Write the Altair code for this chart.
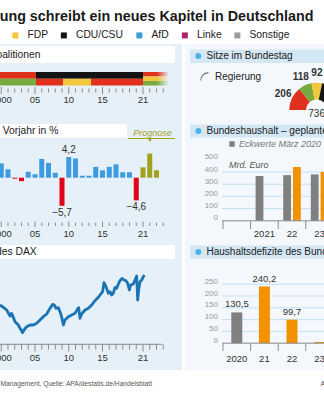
import math
import altair as alt
import pandas as pd

FONT = "Liberation Sans"

# ---------------- data ----------------
title_text = "Ampel-Regierung schreibt ein neues Kapitel in Deutschland"

parties = ["SPD", "Grüne", "FDP", "CDU/CSU", "AfD", "Linke", "Sonstige"]
party_colors = ["#e1301d", "#78ab3d", "#f1c73d", "#141414", "#3a9edb", "#ab2470", "#9b9b9b"]
seats = [206, 118, 92, 197, 83, 39, 1]
seats_total = "736"

coal_start = [1998.0, 2005.15, 2009.15, 2013.3, 2021.0]
coal_end = [2005.15, 2009.15, 2013.3, 2021.0, 2024.7]
coal_parties = [["SPD", "Grüne"], ["CDU/CSU", "SPD"], ["CDU/CSU", "FDP"],
                ["CDU/CSU", "SPD"], ["SPD", "FDP", "Grüne"]]

axis_years = [2000, 2005, 2010, 2015, 2021]
axis_labels = ["2000", "05", "10", "15", "21"]
minor_years = [y for y in range(1998, 2025) if y not in axis_years]

gdp_years = list(range(2000, 2024))
gdp_values = [2.9, 1.7, -0.2, -0.7, 1.2, 0.7, 3.8, 3.0, 1.0, -5.7, 4.2, 3.9,
              0.4, 0.4, 2.2, 1.5, 2.2, 2.7, 1.1, 1.1, -4.6, 2.1, 4.9, 1.5]
forecast_from = 2021
gdp_labeled = [2009, 2010, 2020]

dax_year = [1999.82, 2000.31, 2000.80, 2001.30, 2001.54, 2002.04, 2002.53, 2002.78,
            2003.17, 2003.37, 2003.77, 2004.26, 2004.75, 2005.25, 2005.74, 2006.23,
            2006.73, 2007.22, 2007.62, 2007.86, 2008.11, 2008.46, 2008.80, 2009.00,
            2009.20, 2009.44, 2009.94, 2010.43, 2010.93, 2011.27, 2011.47, 2011.67,
            2011.91, 2012.41, 2012.90, 2013.40, 2013.89, 2014.38, 2014.63, 2015.02,
            2015.22, 2015.52, 2015.86, 2016.11, 2016.36, 2016.60, 2016.85, 2017.10,
            2017.35, 2017.59, 2017.89, 2018.19, 2018.48, 2018.73, 2018.98, 2019.17,
            2019.57, 2019.81, 2020.06, 2020.21, 2020.36, 2020.56, 2020.80, 2021.05,
            2021.20]
dax_value = [8000, 7530, 7000, 5800, 6330, 4670, 4000, 3330,
             2470, 3000, 3670, 4000, 4000, 4330, 5000, 5670,
             6200, 7330, 8130, 8000, 7330, 7470, 6330, 5330,
             4000, 5000, 5670, 6000, 6330, 7130, 7470, 5330,
             6200, 7000, 7330, 8000, 8870, 9530, 10000, 10670,
             12470, 11670, 10330, 10670, 10000, 10330, 11530, 11330,
             12200, 12870, 13330, 13000, 12870, 12330, 11000, 12000,
             12200, 13000, 13800, 9000, 11000, 12670, 13000, 13670,
             14000]

budget_axis = ["2020", "2021", "2022", "2023", "2024"]
budget_years = ["2021", "2022", "2023"]
budget_labels = ["2021", "22", "23"]
budget_eckwerte = [368, 374, 380]
budget_entwurf = [None, 441, 401]
budget_ticks = [0, 100, 200, 300, 400, 500]

deficit_years = ["2020", "2021", "2022", "2023"]
deficit_labels = ["2020", "21", "22", "23"]
deficit_values = [130.5, 240.2, 99.7, 5.0]
deficit_planned_from = 2021
deficit_labeled = ["2020", "2021", "2022"]
deficit_ticks = [0, 50, 100, 150, 200, 250]

# ---------------- style ----------------
W, H = 324, 400
LEFT_BG = "#e6f0f8"
RIGHT_BG = "#f4f8fc"
HEAD_BG = "#d4e7f5"
DOT = "#4db1ea"
BLUE = "#3d9be0"
RED = "#e3001b"
OLIVE = "#a2a21c"
DAXBLUE = "#1a74b4"
GRAY = "#808080"
ORANGE = "#f39200"
GRID = "#c2e1f5"
TICK = "#8c8c8c"
TXT = "#222222"

one = alt.Data(values=[{"k": 0}])


def rect(x0, x1, y0, y1, color):
    return alt.Chart(one).mark_rect(color=color).encode(
        x=alt.value(x0), x2=alt.value(x1), y=alt.value(y0), y2=alt.value(y1))


def txt(s, x, y, size=10, align="left", baseline="middle", color=TXT,
        weight="normal", style="normal"):
    return alt.Chart(alt.Data(values=[{"t": s}])).mark_text(
        align=align, baseline=baseline, fontSize=size, color=color,
        fontWeight=weight, fontStyle=style, font=FONT
    ).encode(x=alt.value(x), y=alt.value(y), text="t:N")


def dot(x, y):
    return alt.Chart(one).mark_circle(color=DOT, size=34, opacity=1).encode(
        x=alt.value(x), y=alt.value(y))


def hline(x0, x1, y, color, width=1):
    return alt.Chart(one).mark_rule(color=color, strokeWidth=width).encode(
        x=alt.value(x0), x2=alt.value(x1), y=alt.value(y))


tl = alt.Scale(domain=[2000, 2021], range=[1.25, 143.0], nice=False, zero=False, padding=0)
party_scale = alt.Scale(domain=parties, range=party_colors)
party_legend = alt.Legend(
    orient="none", legendX=-95.8, legendY=30, direction="horizontal", title=None,
    symbolType="square", symbolSize=36, symbolStrokeWidth=0, labelFontSize=10.3,
    labelFont=FONT, labelColor=TXT, labelOffset=7, columnPadding=10.5, padding=0,
    labelLimit=0)


def year_ticks(years, y0, y1):
    return alt.Chart(pd.DataFrame({"year": years})).mark_rule(color=TICK, strokeWidth=1).encode(
        x=alt.X("year:Q", scale=tl, axis=None), y=alt.value(y0), y2=alt.value(y1))


def year_labels(y):
    return alt.Chart(pd.DataFrame({"year": axis_years, "lab": axis_labels})).mark_text(
        fontSize=9.5, color="#333", baseline="middle", font=FONT
    ).encode(x=alt.X("year:Q", scale=tl, axis=None), y=alt.value(y), text="lab:N")


L = []
# backgrounds and header bars
L += [rect(0, 182, 44, 370, LEFT_BG), rect(185, 324, 44, 370, RIGHT_BG)]
L += [rect(0, 175, 46, 63, "white"), rect(0, 127, 124, 137.5, "white"),
      rect(0, 175, 245, 259, "white")]
L += [rect(190, 324, 49.5, 63, HEAD_BG), rect(190, 324, 124.5, 137.5, HEAD_BG),
      rect(190, 324, 245.5, 258.5, HEAD_BG)]
L += [dot(198.3, 56), dot(198.3, 131), dot(198.3, 252)]

# title and header texts
L.append(txt(title_text, 313.5, 20.7, size=14.3, align="right", baseline="alphabetic",
             weight="bold", color="#1a1a1a"))
L.append(txt("Regierungskoalitionen", 40.5, 55, size=10.3, align="right"))
L.append(txt("Wirtschaftswachstum, Veränderung zum Vorjahr in %", 58.3, 131, size=10.3, align="right"))
L.append(txt("Entwicklung des DAX", 36.7, 252, size=10.3, align="right"))
L.append(txt("Sitze im Bundestag", 206.5, 56, size=10))
L.append(txt("Bundeshaushalt – geplante Ausgaben", 206.5, 131, size=10))
L.append(txt("Haushaltsdefizite des Bundes", 206.5, 252, size=10))

# ---------- coalitions ----------
coal_rows = []
for s, e, ps in zip(coal_start, coal_end, coal_parties):
    for i, p in enumerate(ps):
        coal_rows.append({"start": s, "end": e, "party": p, "idx": i, "w": 1})
coal = alt.Chart(pd.DataFrame(coal_rows)).transform_stack(
    stack="w", groupby=["start"], offset="normalize", as_=["s0", "s1"],
    sort=[alt.SortField("idx", order="descending")]
).mark_rect().encode(
    x=alt.X("start:Q", scale=tl, axis=None),
    x2="end:Q",
    y=alt.Y("s0:Q", scale=alt.Scale(domain=[0, 1], range=[85.5, 72], nice=False, zero=False), axis=None),
    y2="s1:Q",
    color=alt.Color("party:N", scale=party_scale, legend=party_legend),
)
L.append(coal)
fade = alt.Chart(one).mark_rect(fill=alt.LinearGradient(
    gradient="linear",
    stops=[alt.GradientStop(color="rgba(230,240,248,0)", offset=0),
           alt.GradientStop(color=LEFT_BG, offset=1)],
    x1=0, x2=1, y1=0, y2=0)).encode(
    x=alt.value(157), x2=alt.value(169), y=alt.value(71), y2=alt.value(87))
L.append(fade)
L += [year_ticks(minor_years, 88.5, 92.5), year_ticks(axis_years, 87, 94), year_labels(100)]

# ---------- GDP ----------
gdp_df = pd.DataFrame({"year": gdp_years, "v": gdp_values})
gy_scale = alt.Scale(domain=[-6, 6], range=[207.3, 148.1], nice=False, zero=False)


def gdp_bars(filt, color):
    return alt.Chart(gdp_df).transform_filter(filt).mark_bar(
        size=5, color=color, orient="vertical").encode(
        x=alt.X("year:Q", scale=tl, axis=None),
        y=alt.Y("v:Q", scale=gy_scale, axis=None),
        y2=alt.datum(0))


L.append(gdp_bars(f"datum.year < {forecast_from} && datum.v >= 0", BLUE))
L.append(gdp_bars(f"datum.year < {forecast_from} && datum.v < 0", RED))
L.append(gdp_bars(f"datum.year >= {forecast_from}", OLIVE))
gdp_lab = alt.Chart(gdp_df).transform_filter(
    alt.FieldOneOfPredicate(field="year", oneOf=gdp_labeled)
).transform_calculate(lab="replace(format(datum.v, '.1f'), '.', ',')")
L.append(gdp_lab.transform_filter("datum.v >= 0").mark_text(
    baseline="bottom", dy=-2, fontSize=10, color="#333", font=FONT).encode(
    x=alt.X("year:Q", scale=tl, axis=None), y=alt.Y("v:Q", scale=gy_scale, axis=None), text="lab:N"))
L.append(gdp_lab.transform_filter("datum.v < 0").mark_text(
    baseline="top", dy=2, fontSize=10, color="#333", font=FONT).encode(
    x=alt.X("year:Q", scale=tl, axis=None), y=alt.Y("v:Q", scale=gy_scale, axis=None), text="lab:N"))
L.append(txt("Prognose", 152.5, 133.3, size=9, align="center", style="italic", color=OLIVE))
L.append(hline(128, 175, 138.5, OLIVE))
L.append(alt.Chart(one).mark_point(shape="triangle-down", filled=True, size=14, color=OLIVE, opacity=1).encode(
    x=alt.value(150), y=alt.value(140.3)))
L += [year_ticks(minor_years, 222.5, 226), year_ticks(axis_years, 221.5, 227), year_labels(234)]

# ---------- DAX ----------
L.append(alt.Chart(pd.DataFrame({"t": dax_year, "v": dax_value})).mark_line(
    color=DAXBLUE, strokeWidth=2.8, strokeJoin="round").encode(
    x=alt.X("t:Q", scale=tl, axis=None),
    y=alt.Y("v:Q", scale=alt.Scale(domain=[0, 16000], range=[345, 265], nice=False, zero=False), axis=None)))
L.append(hline(0, 162, 344.3, TICK))
L += [year_ticks(minor_years, 344.3, 349.5), year_ticks(axis_years, 344.3, 351.5), year_labels(357.5)]

# ---------- seats (half donut) ----------
seat_df = pd.DataFrame({"party": parties, "seats": seats, "idx": list(range(len(parties)))})
theta = alt.Theta("seats:Q", stack=True, scale=alt.Scale(range=[1.5 * math.pi, 2.5 * math.pi]))
L.append(alt.Chart(seat_df).mark_arc(innerRadius=10.5, outerRadius=27.3).encode(
    theta=theta, color=alt.Color("party:N", scale=party_scale, legend=party_legend),
    order=alt.Order("idx:Q"), x=alt.value(316.6), y=alt.value(110)))
L.append(alt.Chart(seat_df).mark_text(radius=37, fontSize=10, fontWeight="bold", color="#333", font=FONT).encode(
    theta=theta, text="seats:Q", order=alt.Order("idx:Q"), x=alt.value(316.6), y=alt.value(110)))
L.append(txt(seats_total, 316.6, 113.5, size=10, align="center", color="#333"))
L.append(alt.Chart(one).mark_arc(theta=1.5 * math.pi, theta2=2 * math.pi, innerRadius=7.3,
                                 outerRadius=8.3, color="#555").encode(x=alt.value(208.5), y=alt.value(80.5)))
L.append(txt("Regierung", 215, 77, size=10))

# ---------- budget ----------
bx = alt.Scale(domain=budget_axis, range=[223, 361], paddingInner=0, paddingOuter=0)
by = alt.Scale(domain=[0, 500], range=[220.8, 159.8], nice=False, zero=False)
bud_df = pd.DataFrame({"yr": budget_years, "lab": budget_labels,
                       "eck": budget_eckwerte, "ent": budget_entwurf})
L.append(alt.Chart(pd.DataFrame({"v": budget_ticks[1:-1]})).mark_rule(color=GRID).encode(
    y=alt.Y("v:Q", scale=by, axis=None), x=alt.value(222), x2=alt.value(324)))
L.append(alt.Chart(bud_df).mark_bar(size=7.8, xOffset=-4.9, color=GRAY).encode(
    x=alt.X("yr:N", scale=bx, axis=None), y=alt.Y("eck:Q", scale=by, axis=None), y2=alt.datum(0)))
L.append(alt.Chart(bud_df).transform_filter("isValid(datum.ent)").mark_bar(
    size=7.8, xOffset=4.9, color=ORANGE).encode(
    x=alt.X("yr:N", scale=bx, axis=None), y=alt.Y("ent:Q", scale=by, axis=None), y2=alt.datum(0)))
L.append(alt.Chart(pd.DataFrame({"v": budget_ticks})).mark_text(
    align="right", baseline="middle", dy=-2.5, fontSize=8, color="#999", font=FONT).encode(
    y=alt.Y("v:Q", scale=by, axis=None), x=alt.value(218), text="v:Q"))
L.append(hline(222, 324, 220.8, "#8a8a8a"))
L.append(alt.Chart(pd.DataFrame({"yr": budget_axis})).mark_rule(color=TICK).encode(
    x=alt.X("yr:N", scale=bx, axis=None, bandPosition=0), y=alt.value(221), y2=alt.value(229)))
L.append(alt.Chart(bud_df).mark_text(fontSize=9.5, color="#333", baseline="middle", font=FONT).encode(
    x=alt.X("yr:N", scale=bx, axis=None), y=alt.value(233.5), text="lab:N"))
L.append(alt.Chart(one).mark_point(shape="square", filled=True, size=30, color=GRAY, opacity=1).encode(
    x=alt.value(232), y=alt.value(144)))
L.append(txt("Eckwerte März 2020", 239, 144, size=9, style="italic", color="#777"))
L.append(txt("Mrd. Euro", 229, 165, size=9, style="italic", color="#555"))

# ---------- deficit ----------
dy_scale = alt.Scale(domain=[0, 250], range=[343.2, 284.2], nice=False, zero=False)
def_df = pd.DataFrame({"yr": deficit_years, "lab": deficit_labels, "v": deficit_values})
L.append(alt.Chart(pd.DataFrame({"v": deficit_ticks[1:]})).mark_rule(color=GRID).encode(
    y=alt.Y("v:Q", scale=dy_scale, axis=None), x=alt.value(222), x2=alt.value(324)))
L.append(alt.Chart(def_df).transform_filter(f"toNumber(datum.yr) < {deficit_planned_from}").mark_bar(
    size=11, color=GRAY).encode(
    x=alt.X("yr:N", scale=bx, axis=None), y=alt.Y("v:Q", scale=dy_scale, axis=None), y2=alt.datum(0)))
L.append(alt.Chart(def_df).transform_filter(f"toNumber(datum.yr) >= {deficit_planned_from}").mark_bar(
    size=11, color=ORANGE).encode(
    x=alt.X("yr:N", scale=bx, axis=None), y=alt.Y("v:Q", scale=dy_scale, axis=None), y2=alt.datum(0)))
L.append(alt.Chart(def_df).transform_filter(
    alt.FieldOneOfPredicate(field="yr", oneOf=deficit_labeled)
).transform_calculate(t="replace(format(datum.v, '.1f'), '.', ',')").mark_text(
    baseline="bottom", dy=-3, fontSize=9.5, color="#333", font=FONT).encode(
    x=alt.X("yr:N", scale=bx, axis=None), y=alt.Y("v:Q", scale=dy_scale, axis=None), text="t:N"))
L.append(alt.Chart(pd.DataFrame({"v": deficit_ticks})).mark_text(
    align="right", baseline="middle", dy=-2.5, fontSize=8, color="#999", font=FONT).encode(
    y=alt.Y("v:Q", scale=dy_scale, axis=None), x=alt.value(218), text="v:Q"))
L.append(hline(222, 324, 343.2, "#8a8a8a"))
L.append(alt.Chart(pd.DataFrame({"yr": budget_axis})).mark_rule(color=TICK).encode(
    x=alt.X("yr:N", scale=bx, axis=None, bandPosition=0), y=alt.value(343.5), y2=alt.value(351)))
L.append(alt.Chart(def_df).mark_text(fontSize=9.5, color="#333", baseline="middle", font=FONT).encode(
    x=alt.X("yr:N", scale=bx, axis=None), y=alt.value(359), text="lab:N"))

# ---------- footer ----------
L.append(txt("Grafik: HB Research & Management, Quelle: APA/destatis.de/Handelsblatt",
             152, 384, size=6.7, align="right", color="#555"))
L.append(txt("APA", 320.5, 384, size=6.7, color="#555"))

chart = alt.layer(*L).resolve_scale(x="independent", y="independent").properties(
    width=W, height=H, padding=0, background="white",
    autosize=alt.AutoSizeParams(type="none"),
).configure(font=FONT).configure_view(strokeWidth=0)

chart.save("out.html", embed_options={"renderer": "svg", "actions": False})
